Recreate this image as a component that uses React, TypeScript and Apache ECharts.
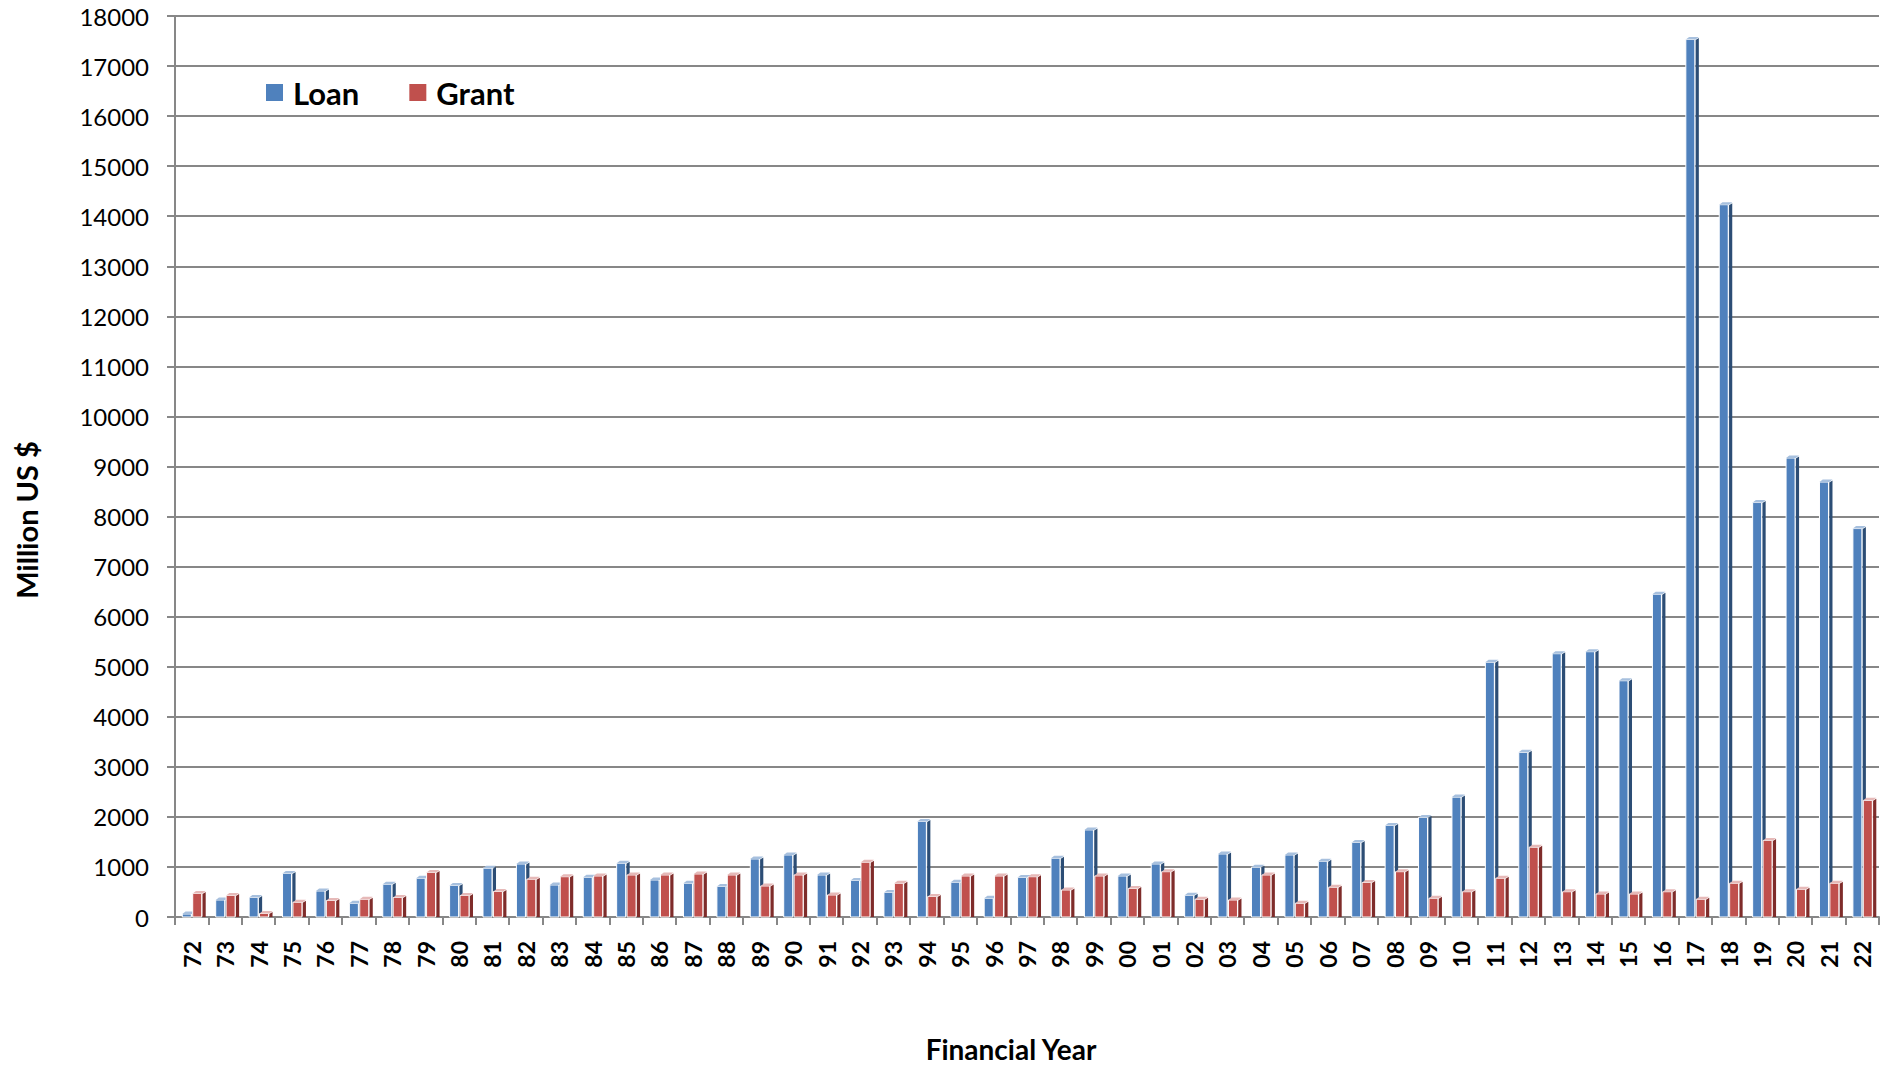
import React, { useEffect, useRef } from "react";
import * as echarts from "echarts";

const years: string[] = [
  "72","73","74","75","76","77","78","79","80","81","82","83","84","85","86","87","88","89","90","91","92","93","94","95","96","97","98","99",
  "00","01","02","03","04","05","06","07","08","09","10","11","12","13","14","15","16","17","18","19","20","21","22",
];

const loan: number[] = [
  60, 340, 390, 870, 520, 275, 655, 775, 630, 975, 1060, 640, 795, 1075, 740, 675, 610, 1160, 1240, 840, 730, 490, 1910, 695, 375, 790, 1175, 1740,
  820, 1060, 435, 1260, 995, 1240, 1115, 1490, 1830, 1990, 2395, 5090, 3290, 5260, 5300, 4720, 6450, 17530, 14230, 8280, 9170, 8690, 7760,
];

const grant: number[] = [
  470, 430, 70, 295, 330, 355, 390, 890, 430, 510, 755, 805, 820, 840, 840, 860, 840, 620, 840, 440, 1095, 675, 410, 820, 820, 805, 540, 820,
  570, 905, 355, 340, 840, 275, 595, 690, 905, 375, 505, 775, 1395, 505, 460, 460, 505, 355, 675, 1530, 555, 675, 2330,
];

const yTicks = { min: 0, max: 18000, interval: 1000 };

const FONT = "Lato, 'Open Sans', sans-serif";
const GRID_COLOR = "#878787";

function make3DRender(offset: number, front: string, side: string, top: string) {
  return (params: any, api: any) => {
    const idx = api.value(0);
    const val = api.value(1);
    const p = api.coord([idx, val]);
    const b = api.coord([idx, 0]);
    const cw = api.size([1, 0])[0];
    const k = cw / 33.4;
    const fl = p[0] + offset * k;
    const fw = 9 * k;
    const sw = 3.2 * k;
    const fr = fl + fw;
    const ty = p[1];
    const by = b[1];
    return {
      type: "group",
      children: [
        {
          type: "rect",
          shape: { x: fl, y: ty, width: fw, height: Math.max(by - ty, 0.5) },
          style: { fill: front, stroke: "#ffffff", lineWidth: 1 },
        },
        {
          type: "polygon",
          shape: {
            points: [
              [fr + 0.8, ty + 0.5],
              [fr + 0.8 + sw, ty - 1.5],
              [fr + 0.8 + sw, by],
              [fr + 0.8, by],
            ],
          },
          style: { fill: side },
        },
        {
          type: "polygon",
          shape: {
            points: [
              [fl, ty],
              [fl + sw, ty - 2.5],
              [fr + sw + 0.8, ty - 2.5],
              [fr + 0.8, ty],
            ],
          },
          style: { fill: top },
        },
      ],
    };
  };
}

export default function App() {
  const ref = useRef<HTMLDivElement>(null);

  useEffect(() => {
    document.body.style.margin = "0";
    if (!ref.current) return;
    const chart = echarts.init(ref.current, null, { renderer: "svg" });
    const option: any = {
      animation: false,
      backgroundColor: "#ffffff",
      grid: { left: 175, right: 12, top: 16, bottom: 151, containLabel: false },
      legend: {
        left: 261,
        top: 72,
        itemWidth: 17,
        itemHeight: 17,
        itemGap: 50,
        icon: "rect",
        data: ["Loan", "Grant"],
        textStyle: {
          fontFamily: FONT,
          fontSize: 31,
          fontWeight: "bold",
          color: "#000000",
          padding: [0, 0, 0, 5],
        },
      },
      xAxis: {
        type: "category",
        data: years,
        boundaryGap: true,
        axisLine: { show: true, lineStyle: { color: GRID_COLOR, width: 2 } },
        axisTick: { show: true, interval: 0, length: 8, lineStyle: { color: GRID_COLOR, width: 2 } },
        axisLabel: {
          interval: 0,
          rotate: 90,
          margin: 24,
          fontFamily: FONT,
          fontSize: 23,
          fontWeight: "bold",
          color: "#000000",
        },
        splitLine: { show: false },
      },
      yAxis: {
        type: "value",
        min: yTicks.min,
        max: yTicks.max,
        interval: yTicks.interval,
        axisLine: { show: true, lineStyle: { color: GRID_COLOR, width: 2 } },
        axisTick: { show: true, length: 8, lineStyle: { color: GRID_COLOR, width: 2 } },
        axisLabel: {
          margin: 26,
          fontFamily: FONT,
          fontSize: 24,
          color: "#000000",
          formatter: (v: number) => String(v),
        },
        splitLine: { show: true, lineStyle: { color: GRID_COLOR, width: 2 } },
      },
      graphic: [
        {
          type: "text",
          x: 26,
          y: 520,
          rotation: Math.PI / 2,
          style: {
            text: "Million US $",
            fontFamily: FONT,
            fontSize: 29,
            fontWeight: "bold",
            fill: "#000000",
            textAlign: "center",
            textVerticalAlign: "middle",
          },
        },
        {
          type: "text",
          x: 1011,
          y: 1049,
          style: {
            text: "Financial Year",
            fontFamily: FONT,
            fontSize: 28,
            fontWeight: "bold",
            fill: "#000000",
            textAlign: "center",
            textVerticalAlign: "middle",
          },
        },
      ],
      series: [
        {
          name: "Loan",
          type: "custom",
          itemStyle: { color: "#4F81BD" },
          encode: { x: 0, y: 1 },
          data: loan.map((v, i) => [i, v]),
          renderItem: make3DRender(-9.4, "#4F81BD", "#2C4D75", "#A7C0DE"),
          z: 2,
        },
        {
          name: "Grant",
          type: "custom",
          itemStyle: { color: "#C0504D" },
          encode: { x: 0, y: 1 },
          data: grant.map((v, i) => [i, v]),
          renderItem: make3DRender(1.0, "#C0504D", "#7F2C2A", "#E6B9B8"),
          z: 3,
        },
      ],
    };
    chart.setOption(option);
    return () => chart.dispose();
  }, []);

  return (
    <div
      ref={ref}
      style={{ position: "absolute", left: 0, top: 0, width: 1891, height: 1068 }}
    />
  );
}
